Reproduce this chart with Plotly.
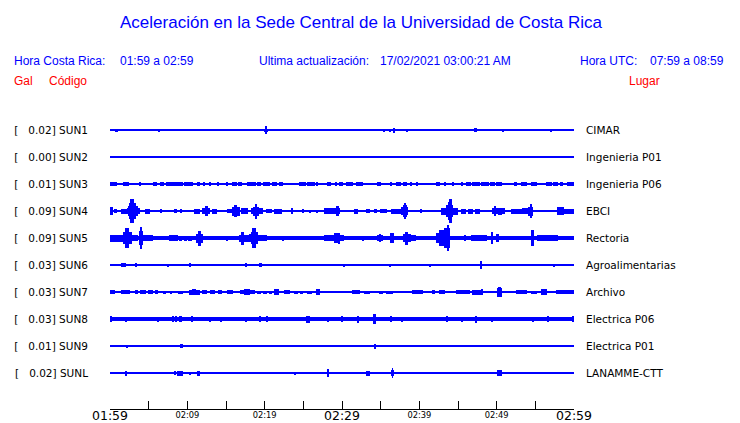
import plotly.graph_objects as go

# ---------------- data ----------------
STATIONS = ["SUN1", "SUN2", "SUN3", "SUN4", "SUN5", "SUN6", "SUN7", "SUN8", "SUN9", "SUNL"]
PEAK_GAL = [0.02, 0.00, 0.01, 0.09, 0.09, 0.03, 0.03, 0.03, 0.01, 0.02]
PLACES = ["CIMAR", "Ingenieria P01", "Ingenieria P06", "EBCI", "Rectoria",
          "Agroalimentarias", "Archivo", "Electrica P06", "Electrica P01", "LANAMME-CTT"]

# minutes after 01:59
TICK_MINUTES = [0, 5, 10, 15, 20, 25, 30, 35, 40, 45, 50, 55, 60]
MAJOR_TICK_LABELS = ["01:59", "", "", "", "", "", "02:29", "", "", "", "", "", "02:59"]
MINOR_TICK_MINUTES = [10, 20, 40, 50]
MINOR_TICK_LABELS = ["02:09", "02:19", "02:39", "02:49"]

# background noise half-amplitude of each trace (display units)
NOISE = [0.5, 0.5, 0.7, 0.8, 1.75, 0.5, 0.8, 1.65, 0.5, 0.5]

# bursts read from the record: (start minute, end minute, half amplitude)
SUN1_BURSTS = [(0.7, 0.95, 1.5), (6.32, 6.32, 1.5), (20.0, 20.4, 1.5), (20.13, 20.13, 4),
               (30.78, 30.78, 1), (35.40, 35.40, 1.5), (36.27, 36.27, 1.5), (36.70, 36.70, 2.5),
               (38.38, 38.38, 1.5), (44.82, 44.82, 1), (47.1, 47.35, 2), (50.85, 50.85, 1.5),
               (56.98, 56.98, 1.5)]
SUN2_BURSTS = []
SUN3_BURSTS = [(0.05, 0.8, 1.7), (1.75, 2.39, 1.7), (3.82, 3.82, 1.7), (5.6, 6.0, 1.7), (6.55, 6.93, 1.7),
               (7.31, 8.2, 1.7), (8.4, 9.4, 1.7), (9.6, 10.68, 1.7), (11.33, 11.59, 1.7), (12.10, 12.10, 1.7),
               (12.88, 12.88, 1.7), (13.92, 13.92, 1.7), (15.08, 15.08, 1.7), (15.86, 16.3, 1.7),
               (16.6, 17.02, 1.7), (17.80, 17.80, 1.7), (18.06, 18.4, 1.7), (18.6, 18.83, 1.7),
               (19.09, 19.5, 1.7), (19.8, 20.65, 1.7), (21.04, 21.5, 1.7), (21.9, 22.33, 1.7),
               (24.53, 25.3, 1.7), (25.6, 26.47, 1.7), (26.73, 26.73, 1.7), (28.16, 28.5, 1.7),
               (29.28, 29.28, 1.7), (29.71, 30.1, 1.7), (30.6, 31.39, 1.7), (31.91, 32.69, 1.7),
               (34.63, 35.0, 1.7), (36.31, 36.31, 1.7), (37.09, 37.5, 1.7), (38.0, 38.38, 1.7),
               (38.90, 38.90, 1.7), (39.68, 39.68, 1.7), (42.27, 42.65, 1.7), (43.30, 43.30, 1.7),
               (44.34, 44.34, 1.7), (45.50, 45.63, 1.7), (46.15, 46.6, 1.7), (46.9, 47.83, 1.7),
               (48.09, 48.9, 1.7), (49.2, 49.77, 1.7), (50.03, 50.68, 1.7), (52.36, 52.6, 1.7),
               (53.2, 53.92, 1.7), (54.56, 55.21, 1.7), (56.50, 57.1, 1.7), (57.4, 57.93, 1.7),
               (58.19, 58.45, 1.7), (59.22, 59.87, 1.7)]
SUN4_BURSTS = [(0.0, 0.32, 4), (0.6, 0.8, 2), (1.49, 2.27, 2.5), (2.27, 3.82, 3), (2.39, 3.56, 5),
               (2.52, 3.3, 8), (2.65, 3.04, 12), (2.9, 3.1, 9), (4.60, 5.11, 2.5), (6.63, 6.63, 2),
               (8.35, 8.61, 2), (9.22, 9.22, 2), (10.94, 11.59, 2.5), (11.97, 12.88, 3),
               (12.36, 12.62, 5), (13.27, 13.79, 2.5), (15.21, 15.73, 2), (15.86, 16.76, 4.5),
               (16.1, 16.4, 6), (17.02, 17.80, 3), (18.32, 19.74, 3), (18.6, 19.2, 4.5),
               (18.75, 18.95, 7.5), (20.26, 20.91, 2), (21.29, 22.20, 2.5), (23.50, 23.50, 3),
               (24.92, 24.92, 2), (25.83, 25.83, 1.5), (26.73, 26.73, 1.5), (27.77, 29.71, 3),
               (29.4, 29.5, 5), (31.65, 32.04, 2.5), (33.2, 33.6, 2), (34.2, 34.4, 2),
               (35.0, 35.79, 2), (36.44, 37.73, 2.5), (37.73, 38.51, 4), (38.0, 38.4, 6),
               (38.21, 38.21, 8), (40.16, 40.16, 2), (42.91, 44.98, 3.5), (43.5, 44.3, 6),
               (43.8, 44.2, 9), (44.0, 44.1, 12), (45.5, 46.0, 2.5), (46.4, 46.9, 2.5),
               (47.2, 47.83, 2.5), (49.51, 51.07, 3), (49.77, 49.77, 5), (50.2, 50.6, 3.5),
               (51.97, 53.40, 2.5), (53.40, 54.69, 3), (54.1, 54.6, 4.5), (54.39, 54.39, 7),
               (57.93, 58.58, 4), (58.83, 59.87, 2.5)]
SUN5_BURSTS = [(0.0, 1.75, 3.5), (1.75, 2.78, 6), (2.0, 2.4, 10), (2.78, 3.56, 3), (3.82, 4.21, 7),
               (3.9, 4.05, 11), (4.21, 5.50, 3), (7.70, 8.74, 3), (9.0, 9.3, 2.5), (9.6, 9.9, 2.5),
               (10.2, 10.55, 2.5), (11.20, 11.97, 4.5), (11.5, 11.7, 7.5), (15.08, 15.08, 2.5),
               (16.76, 18.06, 3.5), (17.0, 17.3, 6.5), (18.06, 18.45, 4), (18.32, 19.09, 6),
               (18.45, 18.75, 10), (19.09, 20.2, 3), (22.33, 22.33, 2.5), (27.77, 30.23, 3),
               (29.0, 29.7, 5), (29.6, 29.7, 5.5), (32.69, 32.69, 2.5), (34.6, 35.3, 3),
               (34.8, 35.0, 4), (36.3, 36.7, 5), (38.0, 38.9, 4), (38.2, 38.5, 6.5),
               (38.9, 39.5, 3), (42.27, 43.95, 5), (42.6, 43.5, 8), (43.3, 43.9, 10),
               (43.6, 43.8, 13), (45.89, 45.89, 3), (46.8, 48.74, 3), (49.3, 49.5, 6),
               (50.1, 50.2, 4), (54.5, 54.8, 8), (55.34, 57.93, 3)]
SUN6_BURSTS = [(1.45, 2.0, 2), (3.30, 3.30, 2), (7.44, 7.44, 1.5), (10.29, 10.29, 2),
               (17.63, 17.63, 2), (19.3, 19.6, 2), (20.95, 20.95, 1), (30.23, 30.23, 1.5),
               (36.27, 36.27, 1.5), (37.35, 37.35, 1), (41.36, 41.36, 1.5), (47.92, 47.92, 4),
               (57.41, 57.41, 1.5)]
SUN7_BURSTS = [(0.0, 0.6, 2), (1.49, 2.52, 2), (3.3, 3.6, 2), (4.0, 4.6, 2), (5.0, 5.5, 2),
               (5.9, 6.2, 2), (6.9, 7.2, 1.5), (7.8, 8.0, 1.5), (8.8, 9.4, 1.5), (10.29, 11.59, 2.5),
               (10.7, 11.0, 3), (11.97, 12.5, 2), (13.0, 13.5, 2), (14.0, 14.39, 2), (15.2, 15.86, 2),
               (16.9, 18.71, 2), (17.41, 18.06, 3), (19.09, 19.4, 1.5), (19.9, 20.2, 1.5),
               (20.6, 20.91, 1.5), (21.29, 21.81, 3), (22.59, 23.24, 2), (23.88, 24.2, 1.5),
               (24.6, 24.9, 1.5), (25.5, 26.08, 1.5), (26.73, 27.12, 3), (28.0, 28.3, 1),
               (29.0, 29.3, 1), (30.10, 30.3, 1), (31.0, 31.2, 1), (31.39, 32.30, 2),
               (32.95, 33.59, 1.5), (34.89, 35.2, 1.5), (35.8, 36.1, 1.5), (36.3, 36.57, 1.5),
               (39.16, 40.45, 2), (41.71, 42.01, 2), (42.65, 43.30, 2), (44.85, 46.54, 2),
               (46.93, 48.22, 2.5), (48.0, 48.15, 3), (50.16, 50.68, 4.5), (50.35, 50.45, 5),
               (52.62, 53.92, 2), (54.56, 55.21, 1.5), (55.86, 56.50, 3), (57.80, 59.87, 2)]
SUN8_BURSTS = [(0.1, 0.2, 3), (2.01, 2.01, 2.5), (6.17, 6.17, 2.5), (8.09, 8.2, 3), (8.5, 8.6, 3),
               (9.1, 9.22, 3), (10.64, 10.64, 3), (12.88, 12.88, 2.5), (14.39, 14.39, 2.5),
               (17.63, 17.63, 2.5), (19.35, 19.35, 3), (20.26, 20.26, 3), (25.44, 25.83, 3.5),
               (28.16, 28.16, 2.5), (30.06, 30.06, 3), (32.04, 32.04, 3.5), (34.11, 34.37, 5),
               (36.40, 36.40, 3), (37.73, 37.73, 2.5), (43.52, 43.52, 3), (45.46, 45.46, 2.5),
               (47.31, 47.31, 3.5), (49.35, 49.35, 2.5), (54.65, 54.65, 2.5), (56.63, 56.63, 3),
               (59.87, 59.87, 3)]
SUN9_BURSTS = [(2.2, 2.2, 1.5), (9.1, 9.35, 2), (34.15, 34.35, 2.5), (36.27, 36.27, 1)]
SUNL_BURSTS = [(2.01, 2.01, 2.5), (6.02, 6.02, 1), (8.35, 8.35, 2), (8.74, 9.39, 2.5),
               (10.29, 10.29, 1.5), (11.33, 11.59, 2.5), (17.97, 17.97, 1), (18.93, 18.93, 1),
               (20.22, 20.22, 1), (23.88, 23.88, 1.5), (24.9, 25.0, 1), (25.5, 25.6, 1),
               (26.08, 26.08, 1), (26.47, 26.47, 1), (28.16, 28.16, 4), (33.15, 33.6, 2.5),
               (34.33, 34.33, 1), (36.45, 36.65, 3), (36.53, 36.53, 5), (40.28, 40.28, 1),
               (41.71, 41.71, 1), (47.18, 47.18, 1), (50.16, 50.68, 3), (51.94, 51.94, 1),
               (57.41, 57.41, 1), (58.19, 58.19, 1)]

BURSTS = [SUN1_BURSTS, SUN2_BURSTS, SUN3_BURSTS, SUN4_BURSTS, SUN5_BURSTS,
          SUN6_BURSTS, SUN7_BURSTS, SUN8_BURSTS, SUN9_BURSTS, SUNL_BURSTS]

# ---------------- layout constants ----------------
# the page body has an 8px margin, so the figure is drawn 8px lower/right;
# positions below are given in window pixels and shifted by OFF.
OFF = 8
W, H = 740 - OFF, 423 - OFF
PLOT_X0, PLOT_X1 = 110, 574      # window pixels
PLOT_Y0, PLOT_Y1 = 100, 409
L = PLOT_X0 - OFF
R = W - (PLOT_X1 - OFF)
T = PLOT_Y0 - OFF
B = H - (PLOT_Y1 - OFF)
PW, PH = W - L - R, H - T - B
ROW_GAP = 27
Y_TOP = 30
Y_BOT = Y_TOP - PH
MIN_W = 0.13
BLUE = "#0000ff"
RED = "#ff0000"


def px_x(p):
    return (p - PLOT_X0) / PW


def px_y(p):
    return (PLOT_Y1 - p) / PH


# ---------------- traces ----------------
xs, ws, bases, hs = [], [], [], []
rows = []
for k, (noise, bursts) in enumerate(zip(NOISE, BURSTS)):
    row = -ROW_GAP * k
    rows.append(row)
    xs.append(30)
    ws.append(60)
    bases.append(row - noise)
    hs.append(2 * noise)
    for t0, t1, a in bursts:
        xs.append((t0 + t1) / 2)
        ws.append(t1 - t0 + MIN_W)
        bases.append(row - a)
        hs.append(2 * a)

fig = go.Figure()
fig.add_trace(go.Bar(x=xs, y=hs, base=bases, width=ws,
                     marker=dict(color=BLUE, line=dict(width=0)),
                     hoverinfo="skip", showlegend=False))
fig.add_trace(go.Scatter(x=[None], y=[None], xaxis="x2", yaxis="y",
                         showlegend=False, hoverinfo="skip"))
fig.add_trace(go.Scatter(x=[None], y=[None], xaxis="x", yaxis="y2",
                         showlegend=False, hoverinfo="skip"))

left_labels = [f"[\u00a0\u00a0\u00a0{g:.2f}]\u00a0{s}" for g, s in zip(PEAK_GAL, STATIONS)]

label_font = dict(family="DejaVu Sans", size=10.5, color="black")
head_font = dict(family="Liberation Sans, Arial", size=12, color=BLUE)
red_font = dict(family="Liberation Sans, Arial", size=12, color=RED)

fig.update_layout(
    width=W, height=H,
    margin=dict(l=L, r=R, t=T, b=B, autoexpand=False),
    paper_bgcolor="white", plot_bgcolor="white",
    barmode="overlay", bargap=0,
    title=dict(text="Aceleración en la Sede Central de la Universidad de Costa Rica",
               x=(361 - OFF) / W, xanchor="center", y=1 - (22 - OFF) / H, yanchor="middle",
               xref="container", yref="container",
               font=dict(family="Liberation Sans, Arial", size=17, color=BLUE)),
    xaxis=dict(range=[0, 60], tickvals=TICK_MINUTES, ticktext=MAJOR_TICK_LABELS,
               ticks="inside", ticklen=8, tickwidth=1, tickcolor="black",
               showline=True, linecolor="black", linewidth=1, mirror=False,
               showgrid=False, zeroline=False, automargin=False,
               ticklabelstandoff=-5,
               tickfont=dict(family="DejaVu Sans", size=12.5, color="black")),
    xaxis2=dict(range=[0, 60], overlaying="x", anchor="y", side="bottom",
                tickvals=MINOR_TICK_MINUTES, ticktext=MINOR_TICK_LABELS,
                ticks="", showline=False, showgrid=False, zeroline=False, automargin=False,
                tickfont=dict(family="DejaVu Sans", size=8.3, color="black")),
    yaxis=dict(range=[Y_BOT, Y_TOP], tickvals=rows, ticktext=left_labels, ticks="",
               showline=False, showgrid=False, zeroline=False, automargin=False,
               ticklabelstandoff=21, tickfont=label_font),
    yaxis2=dict(range=[Y_BOT, Y_TOP], overlaying="y", anchor="x", side="right",
                tickvals=rows, ticktext=PLACES, ticks="",
                showline=False, showgrid=False, zeroline=False, automargin=False,
                ticklabelstandoff=11, tickfont=label_font),
)

header = [
    ("Hora Costa Rica:", 12.3, 60.7, head_font),
    ("01:59 a 02:59", 117.5, 60.7, head_font),
    ("Ultima actualización:", 257.3, 60.7, head_font),
    ("17/02/2021 03:00:21 AM", 377.5, 60.7, head_font),
    ("Hora UTC:", 577.7, 60.7, head_font),
    ("07:59 a 08:59", 648, 60.7, head_font),
    ("Gal", 12.3, 80.7, red_font),
    ("Código", 47, 80.7, red_font),
    ("Lugar", 627.3, 80.7, red_font),
]
for text, px, py, f in header:
    fig.add_annotation(text=text, x=px_x(px), y=px_y(py), xref="paper", yref="paper",
                       xanchor="left", yanchor="middle", showarrow=False, font=f)

fig.write_html("out.html")
